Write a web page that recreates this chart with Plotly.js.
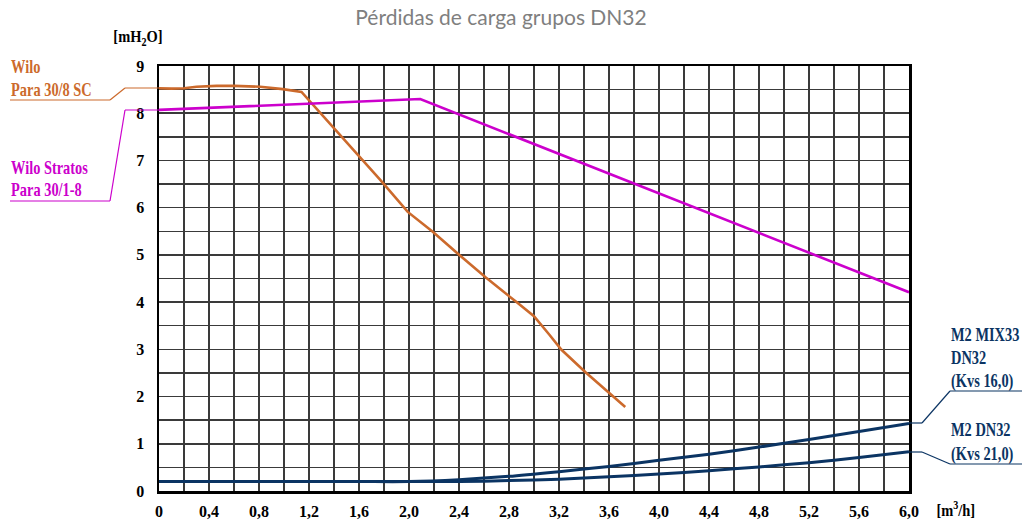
<!DOCTYPE html>
<html>
<head>
<meta charset="utf-8">
<script src="https://cdn.plot.ly/plotly-3.0.1.min.js"></script>
<style>html,body{margin:0;padding:0;background:#fff;}#chart{width:1022px;height:522px;}</style>
</head>
<body>
<div id="chart"></div>
<script>
// ---- data ----
const wiloParaX = [0, 0.1, 0.2, 0.3, 0.46, 0.6, 0.81, 0.99, 1.14, 1.39, 1.61, 1.77, 1.99, 2.19, 2.41, 2.61, 2.86, 3.0, 3.12, 3.22, 3.41, 3.73];
const wiloParaY = [8.53, 8.52, 8.53, 8.56, 8.58, 8.58, 8.56, 8.51, 8.45, 7.71, 7.05, 6.59, 5.91, 5.49, 4.98, 4.53, 4.0, 3.70, 3.32, 2.99, 2.52, 1.78];

const stratosX = [0, 2.09, 6.0];
const stratosY = [8.07, 8.30, 4.21];

const flowX = [0, 0.4, 0.8, 1.2, 1.6, 2.0, 2.4, 2.8, 3.2, 3.6, 4.0, 4.4, 4.8, 5.2, 5.6, 6.0];
const mix33Y = [0.2, 0.2, 0.2, 0.2, 0.2, 0.2, 0.24, 0.31, 0.41, 0.52, 0.65, 0.78, 0.93, 1.09, 1.26, 1.43];
const m2dn32Y = [0.2, 0.2, 0.2, 0.2, 0.2, 0.2, 0.2, 0.22, 0.25, 0.30, 0.36, 0.43, 0.51, 0.60, 0.71, 0.83];

const xTickVals = [0, 0.4, 0.8, 1.2, 1.6, 2.0, 2.4, 2.8, 3.2, 3.6, 4.0, 4.4, 4.8, 5.2, 5.6, 6.0];
const xTickText = ["0", "0,4", "0,8", "1,2", "1,6", "2,0", "2,4", "2,8", "3,2", "3,6", "4,0", "4,4", "4,8", "5,2", "5,6", "6,0"];
const yTickVals = [0, 1, 2, 3, 4, 5, 6, 7, 8, 9];
const yTickText = ["0", "1", "2", "3", "4", "5", "6", "7", "8", "9"];

const titleText = "Pérdidas de carga grupos DN32";
const yUnit = "[mH<sub>2</sub>O]";
const xUnit = "[m<sup>3</sup>/h]";

// ---- style ----
const cOrange = "#cc6a2c";
const cMagenta = "#cc00cc";
const cBlue = "#0b3463";
const serif = "Liberation Serif, Times New Roman, serif";

const W = 1022, H = 522;
const M = {l: 159, r: 113, t: 66, b: 31};
const PW = W - M.l - M.r, PH = H - M.t - M.b;
// convert page pixels to paper coordinates for labels & leader lines
const px = v => (v - M.l) / PW;
const py = v => (H - M.b - v) / PH;

function label(text, xPix, yPix, color) {
  return {
    text: text, xref: "paper", yref: "paper", x: px(xPix), y: py(yPix),
    xanchor: "left", yanchor: "middle", showarrow: false,
    font: {family: serif, size: 18, color: color, weight: "bold"}
  };
}
function seg(x0, y0, x1, y1, color) {
  return {type: "line", xref: "paper", yref: "paper",
    x0: px(x0), y0: py(y0), x1: px(x1), y1: py(y1),
    line: {color: color, width: 1.2}};
}

const traces = [
  {x: wiloParaX, y: wiloParaY, mode: "lines", line: {color: cOrange, width: 2.6, shape: "linear"}, name: "Wilo Para 30/8 SC"},
  {x: stratosX, y: stratosY, mode: "lines", line: {color: cMagenta, width: 2.6}, name: "Wilo Stratos Para 30/1-8"},
  {x: flowX, y: m2dn32Y, mode: "lines", line: {color: cBlue, width: 3, shape: "spline", smoothing: 0.8}, name: "M2 DN32"},
  {x: flowX, y: mix33Y, mode: "lines", line: {color: cBlue, width: 3, shape: "spline", smoothing: 0.8}, name: "M2 MIX33 DN32"}
];

const gridCol = "#3a3a3a";
const layout = {
  width: W, height: H,
  margin: M,
  paper_bgcolor: "#fff", plot_bgcolor: "#fff",
  showlegend: false,
  title: {text: titleText, x: 501 / W, xanchor: "center", y: 1 - 18 / H, yanchor: "middle",
    font: {family: "Lato, Open Sans, sans-serif", size: 21, color: "#7f7f7f"}},
  xaxis: {
    range: [0, 6], tickvals: xTickVals, ticktext: xTickText, ticks: "",
    ticklabelstandoff: 4,
    tickfont: {family: serif, size: 16, color: "#000", weight: "bold"},
    showgrid: true, gridcolor: gridCol, gridwidth: 1.5,
    minor: {dtick: 0.2, tick0: 0, showgrid: true, gridcolor: gridCol, gridwidth: 1.5},
    showline: true, linecolor: "#000", linewidth: 2.5, mirror: true,
    zeroline: false, fixedrange: true
  },
  yaxis: {
    range: [0, 9], tickvals: yTickVals, ticktext: yTickText, ticks: "",
    ticklabelstandoff: 9,
    tickfont: {family: serif, size: 16, color: "#000", weight: "bold"},
    showgrid: true, gridcolor: gridCol, gridwidth: 1.5,
    minor: {dtick: 0.5, tick0: 0, showgrid: true, gridcolor: gridCol, gridwidth: 1.5},
    showline: true, linecolor: "#000", linewidth: 2.5, mirror: true,
    zeroline: false, fixedrange: true
  },
  annotations: [
    {text: yUnit, xref: "paper", yref: "paper", x: px(138), y: py(38), xanchor: "center", yanchor: "middle",
      showarrow: false, font: {family: serif, size: 17, color: "#000", weight: "bold"}},
    {text: xUnit, xref: "paper", yref: "paper", x: px(956), y: py(509), xanchor: "center", yanchor: "middle",
      showarrow: false, font: {family: serif, size: 17, color: "#000", weight: "bold"}},
    label("Wilo", 9, 67, cOrange),
    label("Para 30/8 SC", 9, 90, cOrange),
    label("Wilo Stratos", 9, 168, cMagenta),
    label("Para 30/1-8", 9, 190, cMagenta),
    label("M2 MIX33", 949, 335, cBlue),
    label("DN32", 949, 358, cBlue),
    label("(Kvs 16,0)", 949, 381, cBlue),
    label("M2 DN32", 949, 430, cBlue),
    label("(Kvs 21,0)", 949, 454, cBlue)
  ],
  shapes: [
    seg(10, 100, 110, 100, cOrange), seg(110, 100, 125, 88, cOrange), seg(125, 88, 159, 88, cOrange),
    seg(10, 201, 110, 201, cMagenta), seg(110, 201, 125, 110, cMagenta), seg(125, 110, 159, 110, cMagenta),
    seg(909, 423, 922, 423, cBlue), seg(922, 423, 950, 391, cBlue), seg(950, 391, 1022, 391, cBlue),
    seg(909, 452, 922, 452, cBlue), seg(922, 452, 950, 464, cBlue), seg(950, 464, 1022, 464, cBlue)
  ]
};

// the reference uses a condensed bold serif: narrow the annotation text horizontally
function condense(el, k, origin) {
  el.style.transformBox = "fill-box";
  el.style.transformOrigin = origin;
  el.style.transform = "scaleX(" + k + ")";
}

Plotly.newPlot("chart", traces, layout, {displayModeBar: false, staticPlot: true}).then(function (gd) {
  gd.querySelectorAll("g.annotation").forEach(function (g) {
    const idx = +g.getAttribute("data-index");
    const t = g.querySelector("text.annotation-text");
    if (!t) return;
    if (idx >= 2) condense(t, 0.8, "0% 50%");
    else condense(t, 0.85, "50% 50%");
  });
});
</script>
</body>
</html>
